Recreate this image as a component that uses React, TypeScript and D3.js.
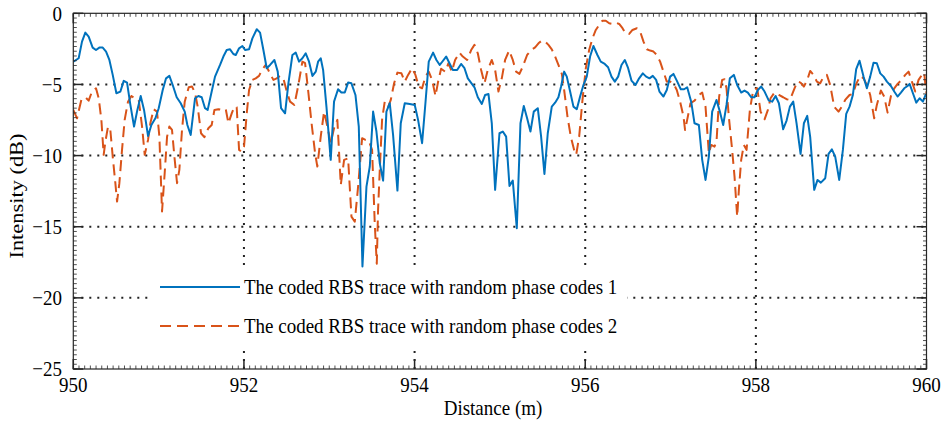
import React from "react";
import * as d3 from "d3";

const distance1 = [950.000,950.063,950.102,950.141,950.180,950.227,950.266,950.305,950.345,950.384,950.423,950.462,950.505,950.552,950.591,950.630,950.669,950.712,950.751,950.790,950.829,950.876,950.915,950.962,951.001,951.048,951.087,951.126,951.165,951.212,951.259,951.306,951.337,951.376,951.427,951.466,951.505,951.544,951.575,951.622,951.661,951.720,951.759,951.798,951.837,951.876,951.904,951.943,951.982,952.013,952.060,952.099,952.150,952.189,952.228,952.267,952.306,952.357,952.396,952.435,952.482,952.521,952.568,952.607,952.646,952.685,952.724,952.763,952.803,952.842,952.869,952.900,952.928,952.967,953.017,953.056,953.103,953.142,953.182,953.221,953.260,953.307,953.346,953.389,953.436,953.475,953.514,953.553,953.592,953.631,953.670,953.709,953.748,953.799,953.838,953.885,953.944,954.002,954.041,954.088,954.127,954.166,954.217,954.256,954.295,954.311,954.370,954.409,954.448,954.499,954.545,954.585,954.624,954.702,954.741,954.788,954.827,954.866,954.905,954.944,954.995,955.034,955.073,955.112,955.151,955.198,955.241,955.280,955.319,955.358,955.397,955.444,955.483,955.522,955.561,955.608,955.647,955.686,955.717,955.753,955.784,955.823,955.862,955.901,955.940,955.979,956.018,956.057,956.096,956.143,956.182,956.229,956.268,956.308,956.347,956.386,956.425,956.464,956.503,956.542,956.589,956.632,956.675,956.714,956.753,956.792,956.831,956.870,956.917,956.956,956.995,957.034,957.073,957.120,957.159,957.195,957.242,957.281,957.332,957.371,957.410,957.449,957.488,957.539,957.578,957.617,957.656,957.695,957.742,957.781,957.828,957.867,957.906,957.945,957.984,958.023,958.063,958.102,958.152,958.191,958.231,958.270,958.320,958.360,958.399,958.438,958.477,958.524,958.563,958.602,958.637,958.684,958.723,958.762,958.813,958.852,958.891,958.930,958.977,959.020,959.059,959.098,959.137,959.176,959.215,959.262,959.301,959.340,959.379,959.418,959.458,959.497,959.536,959.583,959.622,959.661,959.700,959.739,959.778,959.802,959.841,959.880,959.919,959.958,959.989,960.000];
const intensity1 = [-3.40,-3.16,-1.99,-1.36,-1.64,-2.41,-2.58,-2.41,-2.41,-2.69,-3.28,-4.33,-5.62,-5.50,-4.75,-4.87,-6.44,-7.96,-6.79,-5.81,-6.79,-8.62,-7.85,-7.38,-6.67,-5.39,-4.57,-4.40,-5.04,-5.90,-6.32,-6.91,-7.85,-8.55,-5.97,-5.81,-5.90,-6.67,-6.79,-5.50,-4.45,-3.63,-3.04,-2.58,-2.53,-2.86,-2.93,-2.46,-2.30,-2.58,-2.53,-1.76,-1.12,-1.36,-2.58,-3.86,-3.63,-3.28,-4.10,-6.67,-7.03,-4.92,-2.93,-2.76,-3.40,-3.16,-2.81,-3.40,-4.40,-4.10,-3.40,-3.16,-3.98,-6.56,-10.30,-6.21,-5.34,-5.57,-5.57,-4.87,-4.92,-5.74,-7.96,-17.80,-12.18,-10.77,-6.91,-8.31,-10.54,-11.76,-6.91,-6.32,-8.55,-12.46,-7.73,-6.32,-6.37,-6.44,-7.49,-9.13,-6.32,-3.40,-2.76,-3.28,-3.63,-3.51,-3.04,-3.51,-3.98,-3.98,-3.56,-3.86,-4.57,-5.20,-5.90,-6.37,-5.74,-5.67,-7.73,-12.41,-8.43,-8.31,-8.67,-12.13,-11.76,-15.11,-7.73,-6.51,-7.38,-8.31,-6.91,-6.67,-8.67,-11.29,-8.43,-6.56,-6.28,-5.90,-5.15,-4.10,-4.45,-5.50,-6.56,-6.74,-5.85,-5.04,-4.45,-3.04,-2.30,-2.93,-3.40,-3.56,-3.79,-4.45,-4.80,-4.45,-3.63,-3.28,-3.86,-4.73,-5.04,-4.57,-4.22,-4.45,-4.57,-4.40,-4.68,-5.50,-5.85,-5.39,-4.45,-4.26,-4.73,-5.34,-5.34,-5.20,-6.21,-7.73,-7.85,-10.30,-11.71,-10.07,-6.91,-6.09,-6.91,-7.85,-6.44,-4.57,-4.33,-5.04,-5.57,-5.43,-5.57,-5.90,-5.90,-5.39,-5.15,-5.50,-6.14,-6.21,-5.81,-6.32,-8.15,-7.54,-6.56,-6.21,-7.73,-9.88,-7.73,-7.21,-8.70,-12.41,-11.71,-11.90,-11.59,-9.88,-9.56,-10.07,-11.71,-9.60,-7.07,-6.56,-5.74,-3.93,-3.33,-4.45,-5.27,-4.45,-3.47,-3.51,-4.22,-4.45,-4.80,-5.11,-5.50,-5.85,-5.57,-5.27,-5.11,-4.96,-5.62,-6.28,-5.97,-6.21,-5.74,-5.74];

const distance2 = [950.000,950.044,950.071,950.094,950.141,950.180,950.219,950.266,950.298,950.329,950.356,950.376,950.407,950.434,950.462,950.493,950.513,950.540,950.571,950.602,950.641,950.681,950.720,950.767,950.806,950.837,950.876,950.903,950.942,950.981,951.009,951.040,951.071,951.099,951.126,951.157,951.185,951.216,951.243,951.274,951.306,951.353,951.392,951.427,951.458,951.497,951.536,951.583,951.622,951.654,951.700,951.739,951.787,951.818,951.857,951.888,951.915,951.943,951.974,952.001,952.033,952.060,952.099,952.138,952.177,952.216,952.255,952.295,952.345,952.384,952.423,952.462,952.502,952.541,952.591,952.638,952.685,952.717,952.756,952.795,952.834,952.860,952.900,952.939,952.978,953.017,953.056,953.095,953.135,953.174,953.221,953.260,953.299,953.338,953.385,953.424,953.463,953.502,953.533,953.557,953.572,953.592,953.619,953.650,953.690,953.721,953.760,953.799,953.846,953.885,953.924,953.971,954.010,954.049,954.088,954.127,954.166,954.205,954.245,954.276,954.311,954.358,954.397,954.436,954.475,954.526,954.565,954.616,954.663,954.702,954.741,954.780,954.819,954.858,954.905,954.944,954.983,955.022,955.061,955.108,955.151,955.190,955.229,955.268,955.319,955.366,955.413,955.452,955.491,955.530,955.569,955.608,955.647,955.686,955.726,955.753,955.792,955.831,955.870,955.894,955.929,955.968,956.007,956.046,956.085,956.124,956.163,956.202,956.241,956.281,956.320,956.359,956.398,956.437,956.476,956.515,956.554,956.605,956.644,956.683,956.722,956.761,956.800,956.839,956.878,956.917,956.956,956.995,957.034,957.073,957.112,957.152,957.170,957.195,957.234,957.281,957.332,957.371,957.410,957.449,957.476,957.515,957.539,957.570,957.605,957.633,957.656,957.683,957.722,957.750,957.781,957.801,957.828,957.859,957.891,957.930,957.969,958.016,958.055,958.102,958.141,958.172,958.219,958.270,958.320,958.360,958.399,958.446,958.485,958.524,958.563,958.602,958.637,958.676,958.715,958.754,958.793,958.832,958.871,958.918,958.969,959.008,959.047,959.098,959.137,959.176,959.223,959.262,959.301,959.340,959.387,959.418,959.465,959.504,959.544,959.583,959.622,959.661,959.700,959.751,959.790,959.829,959.868,959.907,959.946,959.973,959.989,960.000];
const intensity2 = [-6.79,-7.38,-6.67,-6.09,-5.90,-6.14,-5.50,-5.27,-5.97,-7.49,-9.95,-9.02,-7.96,-8.20,-10.07,-11.94,-13.23,-11.94,-9.60,-7.49,-6.21,-5.81,-5.97,-6.09,-7.96,-9.95,-8.90,-7.73,-6.74,-6.91,-8.67,-13.93,-11.24,-8.67,-7.96,-8.20,-10.07,-11.94,-11.01,-8.20,-6.21,-5.20,-5.15,-5.60,-6.56,-8.43,-8.71,-8.08,-7.85,-6.79,-6.74,-6.79,-6.74,-7.73,-7.03,-6.56,-6.60,-9.60,-9.72,-9.37,-7.03,-5.39,-4.68,-4.57,-4.40,-3.93,-3.63,-4.10,-4.68,-4.57,-4.40,-4.57,-5.50,-6.21,-6.44,-5.04,-3.40,-3.51,-5.62,-7.85,-9.84,-10.77,-8.67,-6.91,-7.96,-9.13,-8.08,-7.49,-12.06,-10.30,-10.19,-14.29,-14.64,-12.18,-8.78,-8.90,-8.95,-9.60,-14.75,-17.60,-13.82,-11.01,-7.49,-6.21,-6.60,-6.09,-4.92,-4.17,-4.22,-4.80,-4.33,-3.86,-4.33,-5.15,-5.27,-4.45,-4.10,-4.68,-5.81,-4.80,-3.90,-4.10,-3.51,-4.10,-3.28,-2.76,-3.04,-3.28,-2.58,-2.22,-2.81,-3.98,-4.92,-3.98,-3.28,-3.98,-5.50,-4.57,-3.28,-2.62,-3.28,-4.10,-4.26,-3.75,-2.93,-2.58,-2.39,-2.11,-1.92,-1.99,-2.22,-2.53,-3.04,-3.63,-4.26,-5.39,-7.26,-8.67,-9.60,-9.95,-8.67,-6.09,-3.86,-2.58,-1.76,-1.17,-0.82,-0.52,-0.52,-0.70,-0.75,-0.66,-0.75,-1.05,-1.45,-1.45,-1.17,-1.05,-1.29,-1.99,-2.53,-2.62,-2.69,-2.93,-3.40,-4.10,-4.80,-4.80,-4.92,-5.39,-6.21,-7.26,-8.20,-7.49,-6.32,-6.14,-5.74,-5.57,-6.56,-9.84,-9.25,-9.37,-9.02,-5.85,-4.68,-4.64,-5.27,-7.26,-9.60,-11.48,-14.29,-12.41,-10.30,-9.25,-9.60,-6.79,-5.39,-5.27,-6.91,-7.45,-6.79,-5.97,-5.57,-5.74,-5.90,-6.04,-6.09,-5.39,-4.80,-4.87,-5.15,-4.68,-4.05,-4.33,-4.80,-4.92,-4.45,-4.33,-5.04,-6.56,-6.91,-6.56,-6.09,-5.74,-5.67,-4.96,-4.40,-4.57,-5.04,-5.74,-7.38,-6.44,-5.43,-5.85,-6.98,-5.81,-5.27,-4.96,-4.73,-4.33,-4.10,-4.80,-5.50,-4.68,-4.33,-4.17,-5.15,-5.62];

const xTicks = [950, 952, 954, 956, 958, 960];
const yTicks = [0, -5, -10, -15, -20, -25];
const yTickLabels = ["0", "\u22125", "\u221210", "\u221215", "\u221220", "\u221225"];
const seriesNames = [
  "The coded RBS trace with random phase codes 1",
  "The coded RBS trace with random phase codes 2",
];
const seriesColors = ["#0072BD", "#D95319"];

const W = 942;
const H = 427;
const L = 73.3, R = 926.5, T = 13.3, B = 369;
const FONT = "'Liberation Serif', 'Times New Roman', serif";
const AX = "#262626";
const DASH = "11,6";

export default function App() {
  const x = d3.scaleLinear().domain([950, 960]).range([L, R]);
  const y = d3.scaleLinear().domain([-25, 0]).range([B, T]);
  const mk = (ds: number[], vs: number[]) =>
    d3.line<number>().x((_, i) => x(ds[i])).y((v) => y(v))(vs) || "";
  const path1 = mk(distance1, intensity1);
  const path2 = mk(distance2, intensity2);

  const xMinor = d3.range(0, 151).map((i) => 950 + (i * 2) / 30);
  const yMinor = d3.range(0, 76).map((i) => -25 + i / 3);

  const legX0 = 150, legX1 = 627, legY0 = 268, legY1 = 346;
  const legRows = [287, 326];

  return (
    <div style={{ position: "fixed", left: 0, top: 0, width: W, height: H, background: "#fff" }}>
      <svg width={W} height={H} style={{ display: "block" }}>
        <rect x={0} y={0} width={W} height={H} fill="#fff" />
        <defs>
          <clipPath id="plotclip">
            <rect x={L} y={T} width={R - L} height={B - T} />
          </clipPath>
        </defs>
        {xTicks.filter((t) => t > 950 && t < 960).map((t) => (
          <line key={"gx" + t} x1={x(t)} x2={x(t)} y1={B} y2={T} stroke="#222" strokeWidth={2} strokeDasharray="2,6" />
        ))}
        {yTicks.filter((t) => t < 0 && t > -25).map((t) => (
          <line key={"gy" + t} x1={L} x2={R} y1={y(t)} y2={y(t)} stroke="#222" strokeWidth={2} strokeDasharray="2,6" />
        ))}
        <g clipPath="url(#plotclip)">
          <path d={path2} fill="none" stroke={seriesColors[1]} strokeWidth={2} strokeDasharray={DASH} strokeLinejoin="round" />
          <path d={path1} fill="none" stroke={seriesColors[0]} strokeWidth={2} strokeLinejoin="round" />
        </g>
        <rect x={legX0} y={legY0} width={legX1 - legX0} height={legY1 - legY0} fill="#fff" />
        {seriesNames.map((name, i) => (
          <g key={name}>
            <line x1={160} x2={240} y1={legRows[i]} y2={legRows[i]} stroke={seriesColors[i]} strokeWidth={2}
              strokeDasharray={i === 1 ? DASH : undefined} />
            <text transform={`translate(244,${legRows[i]}) scale(1,1.12)`} fontFamily={FONT} fontSize={19}
              dominantBaseline="central" fill="#000">{name}</text>
          </g>
        ))}
        <rect x={L} y={T} width={R - L} height={B - T} fill="none" stroke={AX} strokeWidth={1.2} />
        {xMinor.map((t, i) => (
          <g key={"xm" + i}>
            <line x1={x(t)} x2={x(t)} y1={B} y2={B - 3.5} stroke={AX} strokeWidth={0.8} />
            <line x1={x(t)} x2={x(t)} y1={T} y2={T + 3.5} stroke={AX} strokeWidth={0.8} />
          </g>
        ))}
        {yMinor.map((t, i) => (
          <g key={"ym" + i}>
            <line x1={L} x2={L + 3.5} y1={y(t)} y2={y(t)} stroke={AX} strokeWidth={0.8} />
            <line x1={R} x2={R - 3.5} y1={y(t)} y2={y(t)} stroke={AX} strokeWidth={0.8} />
          </g>
        ))}
        {xTicks.map((t) => (
          <g key={"xt" + t}>
            <line x1={x(t)} x2={x(t)} y1={B} y2={B - 10} stroke={AX} strokeWidth={1.5} />
            <line x1={x(t)} x2={x(t)} y1={T} y2={T + 10} stroke={AX} strokeWidth={1.5} />
            <text transform={`translate(${x(t)},392) scale(1,1.12)`} textAnchor="middle" fontFamily={FONT} fontSize={19} fill="#000">{t}</text>
          </g>
        ))}
        {yTicks.map((t, i) => (
          <g key={"yt" + t}>
            <line x1={L} x2={L + 10} y1={y(t)} y2={y(t)} stroke={AX} strokeWidth={1.5} />
            <line x1={R} x2={R - 10} y1={y(t)} y2={y(t)} stroke={AX} strokeWidth={1.5} />
            <text transform={`translate(62,${y(t)}) scale(1,1.12)`} textAnchor="end" dominantBaseline="central" fontFamily={FONT} fontSize={19} fill="#000">{yTickLabels[i]}</text>
          </g>
        ))}
        <text transform={`translate(493,415) scale(1,1.12)`} textAnchor="middle" fontFamily={FONT} fontSize={19} fill="#000">Distance (m)</text>
        <text transform={`translate(23,196) rotate(-90) scale(1.18,1)`} textAnchor="middle" fontFamily={FONT} fontSize={19} fill="#000">Intensity (dB)</text>
      </svg>
    </div>
  );
}
